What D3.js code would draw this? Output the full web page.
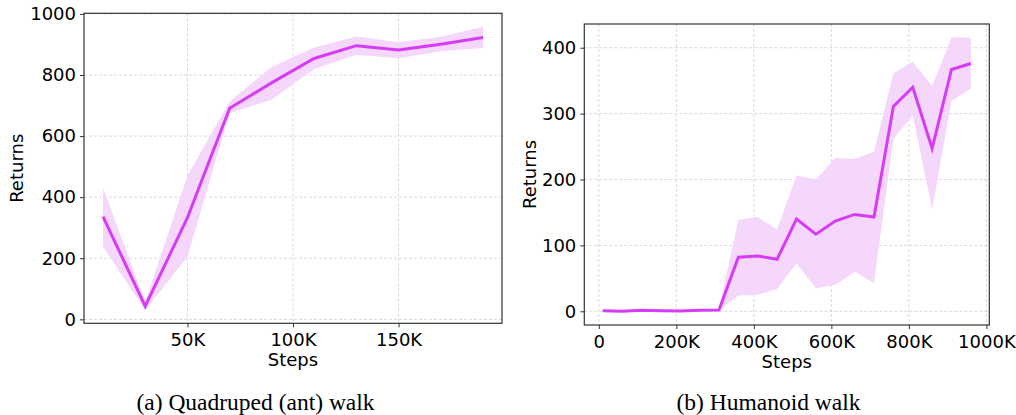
<!DOCTYPE html>
<html>
<head>
<meta charset="utf-8">
<script src="https://cdn.jsdelivr.net/npm/d3@7"></script>
<style>
  body { margin: 0; background: #fff; }
  svg { display: block; }
</style>
</head>
<body>
<div id="chart"></div>
<script>
// (a) quadruped (ant) walk
var antSteps = [10000, 30000, 50000, 70000, 90000, 110000, 130000, 150000, 170000, 190000];
var antMean  = [336, 43, 333, 691, 775, 854, 896, 882, 901, 923];
var antUpper = [430, 58, 470, 713, 827, 890, 926, 907, 925, 958];
var antLower = [238, 30, 205, 675, 720, 820, 866, 855, 878, 888];
var antXTicks = [50000, 100000, 150000];
var antYTicks = [0, 200, 400, 600, 800, 1000];

// (b) humanoid walk
var humSteps = [10000, 60000, 110000, 160000, 210000, 260000, 310000, 360000, 410000, 460000,
                510000, 560000, 610000, 660000, 710000, 760000, 810000, 860000, 910000, 960000];
var humMean  = [1, 0, 1.5, 1, 0.5, 1.5, 2, 82, 84, 79, 140, 117, 137, 147, 143, 311, 340, 247, 367, 376];
var humUpper = [2.5, 1.5, 3, 2.5, 2, 3, 3, 139, 143, 124, 206, 200, 233, 231, 242, 361, 379, 342, 416, 415];
var humLower = [0, -1, 0, 0, -1, 0, 1, 24, 25, 34, 73, 35, 40, 60, 43, 261, 298, 154, 319, 338];
var humXTicks = [0, 200000, 400000, 600000, 800000, 1000000];
var humYTicks = [0, 100, 200, 300, 400];

var lineColor = "#d63cf5";
var bandColor = "#f5d7fb";

var svg = d3.select("#chart")
    .append("svg")
    .attr("width", 1016)
    .attr("height", 415);

function fmtK(d) { return d === 0 ? "0" : (d / 1000) + "K"; }

function panel(opt) {
    var x = d3.scaleLinear().domain(opt.xDomain).range([opt.left, opt.right]);
    var y = d3.scaleLinear().domain(opt.yDomain).range([opt.bottom, opt.top]);
    var g = svg.append("g");

    // grid
    g.append("g").selectAll("line")
        .data(opt.xTicks).enter().append("line")
        .attr("x1", function (d) { return x(d); })
        .attr("x2", function (d) { return x(d); })
        .attr("y1", opt.top).attr("y2", opt.bottom)
        .attr("stroke", "#d0d0d0").attr("stroke-width", 0.8)
        .attr("stroke-dasharray", "3,2");
    g.append("g").selectAll("line")
        .data(opt.yTicks).enter().append("line")
        .attr("y1", function (d) { return y(d); })
        .attr("y2", function (d) { return y(d); })
        .attr("x1", opt.left).attr("x2", opt.right)
        .attr("stroke", "#d0d0d0").attr("stroke-width", 0.8)
        .attr("stroke-dasharray", "3,2");

    // band
    var idx = d3.range(opt.steps.length);
    var area = d3.area()
        .x(function (i) { return x(opt.steps[i]); })
        .y0(function (i) { return y(opt.lower[i]); })
        .y1(function (i) { return y(opt.upper[i]); });
    g.append("path")
        .datum(idx)
        .attr("d", area)
        .attr("fill", bandColor);

    // mean line
    var line = d3.line()
        .x(function (i) { return x(opt.steps[i]); })
        .y(function (i) { return y(opt.mean[i]); });
    g.append("path")
        .datum(idx)
        .attr("d", line)
        .attr("fill", "none")
        .attr("stroke", lineColor)
        .attr("stroke-width", 3)
        .attr("stroke-linejoin", "miter");

    // axes
    var xAxis = g.append("g")
        .attr("transform", "translate(0," + opt.bottom + ")")
        .call(d3.axisBottom(x).tickValues(opt.xTicks).tickFormat(fmtK).tickSizeOuter(0).tickSize(4).tickPadding(6));
    var yAxis = g.append("g")
        .attr("transform", "translate(" + opt.left + ",0)")
        .call(d3.axisLeft(y).tickValues(opt.yTicks).tickFormat(d3.format("d")).tickSizeOuter(0).tickSize(4).tickPadding(4));
    [xAxis, yAxis].forEach(function (a) {
        a.select(".domain").remove();
        a.selectAll("line").attr("stroke", "#333");
        a.selectAll("text")
            .attr("fill", "#000")
            .style("font-family", "DejaVu Sans")
            .style("font-size", "18px");
    });

    // frame
    g.append("rect")
        .attr("x", opt.left).attr("y", opt.top)
        .attr("width", opt.right - opt.left)
        .attr("height", opt.bottom - opt.top)
        .attr("fill", "none")
        .attr("stroke", "#333")
        .attr("stroke-width", 1.2);

    // labels
    g.append("text")
        .attr("x", (opt.left + opt.right) / 2)
        .attr("y", opt.bottom + 43)
        .style("text-anchor", "middle")
        .style("font-family", "DejaVu Sans")
        .style("font-size", "18px")
        .text("Steps");
    g.append("text")
        .attr("transform", "translate(" + opt.yLabelX + "," + ((opt.top + opt.bottom) / 2) + ") rotate(-90)")
        .style("text-anchor", "middle")
        .style("font-family", "DejaVu Sans")
        .style("font-size", "18px")
        .text("Returns");
    svg.append("text")
        .attr("x", opt.capX)
        .attr("y", 410)
        .style("text-anchor", "middle")
        .style("font-family", "Liberation Serif")
        .style("font-size", "23.5px")
        .text(opt.caption);
}

panel({
    steps: antSteps, mean: antMean, upper: antUpper, lower: antLower,
    xTicks: antXTicks, yTicks: antYTicks,
    xDomain: [1000, 199000], yDomain: [-13, 1002],
    left: 84, right: 502, top: 13.3, bottom: 323.3,
    yLabelX: 23, capX: 255.5,
    caption: "(a) Quadruped (ant) walk"
});

panel({
    steps: humSteps, mean: humMean, upper: humUpper, lower: humLower,
    xTicks: humXTicks, yTicks: humYTicks,
    xDomain: [-37500, 1007500], yDomain: [-20.8, 436],
    left: 584.3, right: 989.3, top: 24, bottom: 325,
    yLabelX: 536, capX: 768.5,
    caption: "(b) Humanoid walk"
});
</script>
</body>
</html>
